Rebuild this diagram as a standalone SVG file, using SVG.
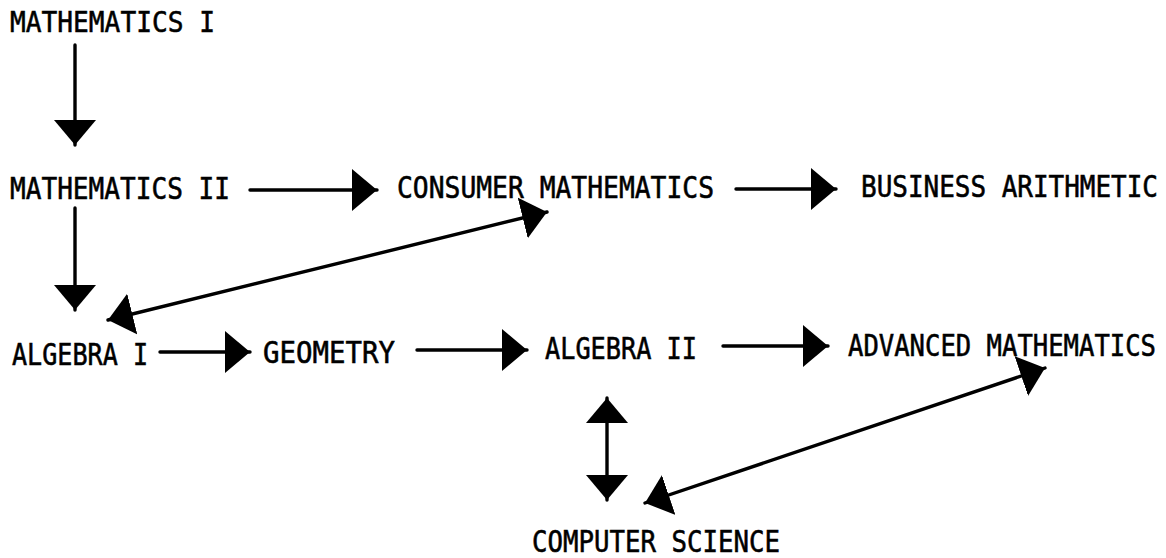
<svg xmlns="http://www.w3.org/2000/svg" width="1166" height="558" viewBox="0 0 1166 558">
  <style>
    .lbl { font-family: "DejaVu Sans Mono", "Liberation Mono", monospace; font-size: 26px; fill: #000; stroke: #000; stroke-width: 0.5; }
    .conn { stroke: #000; stroke-width: 3.4; fill: none; stroke-linecap: round; }
  </style>
  <defs>
    <marker id="ah" viewBox="0 -21 25 42" refX="25" refY="0" markerWidth="25" markerHeight="42" markerUnits="userSpaceOnUse" orient="auto-start-reverse">
      <path d="M0,-21 L25,0 L0,21 Z" fill="#000"/>
    </marker>
  </defs>
  <rect width="1166" height="558" fill="#fff"/>

  <g id="connectors">
    <line class="conn" x1="75" y1="45" x2="75" y2="145" marker-end="url(#ah)"/>
    <line class="conn" x1="75" y1="208" x2="75" y2="310" marker-end="url(#ah)"/>
    <line class="conn" x1="250" y1="190" x2="377" y2="190" marker-end="url(#ah)"/>
    <line class="conn" x1="736" y1="189" x2="836" y2="189" marker-end="url(#ah)"/>
    <line class="conn" x1="108" y1="320" x2="547" y2="212" marker-start="url(#ah)" marker-end="url(#ah)"/>
    <line class="conn" x1="160" y1="352" x2="250" y2="352" marker-end="url(#ah)"/>
    <line class="conn" x1="417" y1="350" x2="527" y2="350" marker-end="url(#ah)"/>
    <line class="conn" x1="723" y1="346" x2="828" y2="346" marker-end="url(#ah)"/>
    <line class="conn" x1="607" y1="398" x2="607" y2="500" marker-start="url(#ah)" marker-end="url(#ah)"/>
    <line class="conn" x1="645" y1="503" x2="1045" y2="368" marker-start="url(#ah)" marker-end="url(#ah)"/>
  </g>

  <g id="n-math1"><text class="lbl" transform="translate(10,32) scale(1,1.12)" textLength="205" lengthAdjust="spacingAndGlyphs">MATHEMATICS I</text></g>
  <g id="n-math2"><text class="lbl" transform="translate(10,199) scale(1,1.15)" textLength="220" lengthAdjust="spacingAndGlyphs">MATHEMATICS II</text></g>
  <g id="n-consumer"><text class="lbl" transform="translate(397,198) scale(1,1.15)" textLength="317" lengthAdjust="spacingAndGlyphs">CONSUMER MATHEMATICS</text></g>
  <g id="n-business"><text class="lbl" transform="translate(861,197) scale(1,1.15)" textLength="297" lengthAdjust="spacingAndGlyphs">BUSINESS ARITHMETIC</text></g>
  <g id="n-alg1"><text class="lbl" transform="translate(12,365) scale(1,1.18)" textLength="136" lengthAdjust="spacingAndGlyphs">ALGEBRA I</text></g>
  <g id="n-geometry"><text class="lbl" transform="translate(263,363) scale(1,1.18)" textLength="132" lengthAdjust="spacingAndGlyphs">GEOMETRY</text></g>
  <g id="n-alg2"><text class="lbl" transform="translate(545,359) scale(1,1.18)" textLength="152" lengthAdjust="spacingAndGlyphs">ALGEBRA II</text></g>
  <g id="n-advanced"><text class="lbl" transform="translate(848,356) scale(1,1.18)" textLength="308" lengthAdjust="spacingAndGlyphs">ADVANCED MATHEMATICS</text></g>
  <g id="n-cs"><text class="lbl" transform="translate(532,552) scale(1,1.15)" textLength="248" lengthAdjust="spacingAndGlyphs">COMPUTER SCIENCE</text></g>
</svg>
